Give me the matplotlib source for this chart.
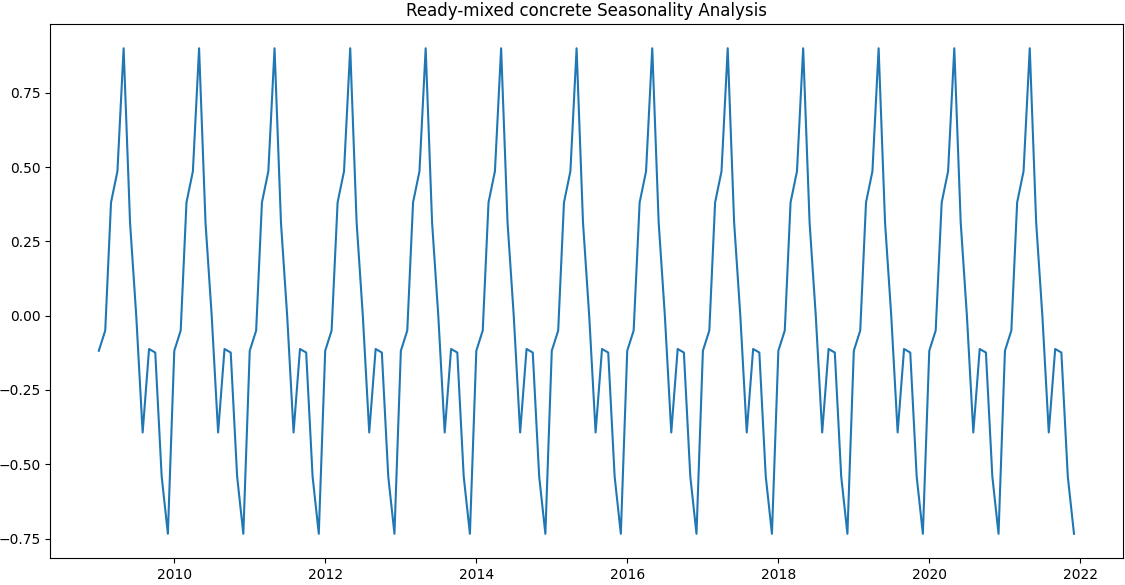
import matplotlib.pyplot as plt
import pandas as pd

# monthly seasonal pattern (Jan..Dec), repeated each year
seasonal_pattern = [-0.118, -0.050, 0.381, 0.486, 0.900, 0.314, 0.000,
                    -0.393, -0.112, -0.124, -0.541, -0.734]
years = list(range(2009, 2022))

dates = pd.date_range("2009-01-01", periods=12 * len(years), freq="MS")
values = seasonal_pattern * len(years)

fig, ax = plt.subplots(figsize=(11.25, 5.85), dpi=100)
ax.plot(dates, values, color="#1f77b4", linewidth=1.5)
ax.set_title("Ready-mixed concrete Seasonality Analysis")
ax.set_yticks([-0.75, -0.5, -0.25, 0.0, 0.25, 0.5, 0.75])

plt.subplots_adjust(left=0.0445, right=0.998, top=0.959, bottom=0.046)
plt.savefig("out.png")
